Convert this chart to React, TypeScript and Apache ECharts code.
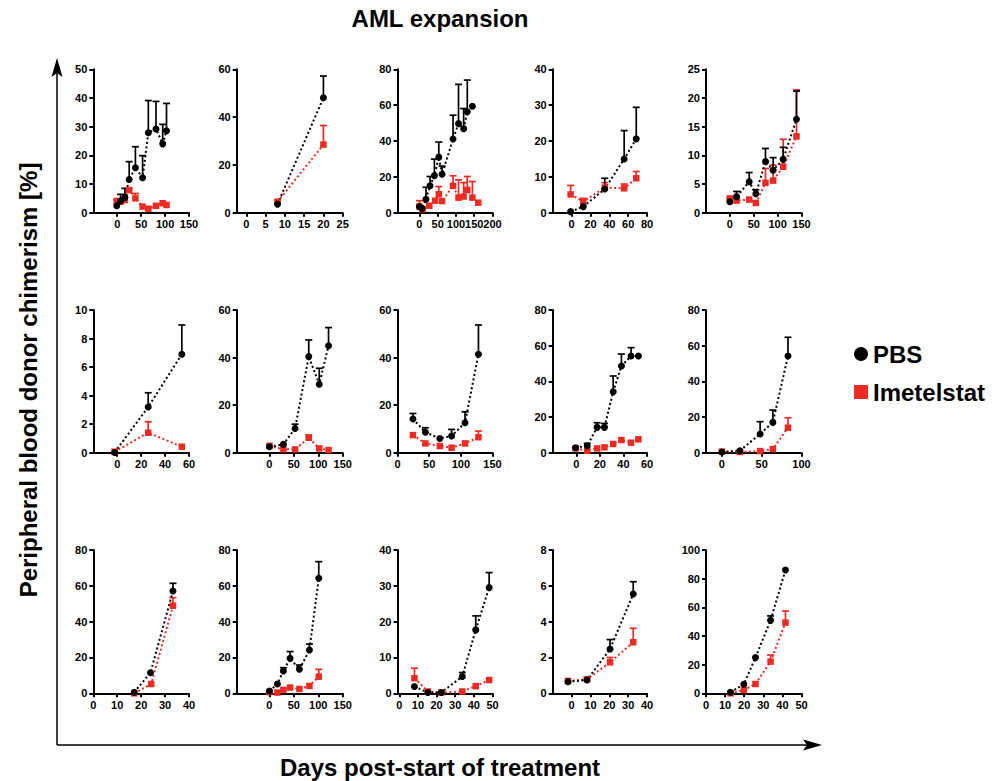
import React, { useEffect, useRef } from 'react';
import * as echarts from 'echarts';

const FONT = 'Liberation Sans, Arial, Helvetica, sans-serif';
const BLACK = '#000000';
const RED = '#ec2a24';

// ---------- Panel 1 (row 1, col 1)
const pbsDays1 = [-1, 7, 16, 25, 38, 53, 65, 81, 95, 103];
const pbs1 = [2.4, 4.1, 5.3, 11.6, 15.7, 12.2, 27.9, 29.2, 24, 28.6];
const pbsErr1 = [null, 6.4, 8.5, 17.8, 23, 19.9, 39.1, 38.8, 30.8, 38.1];
const imeDays1 = [-1, 7, 16, 25, 38, 53, 65, 81, 95, 103];
const ime1 = [4.1, 3.8, 4.4, 7.9, 5.0, 2.1, 1.4, 2.4, 3.3, 2.7];
const imeErr1 = [4.5, null, null, 8.5, 6.7, null, null, null, null, null];
const xTicks1 = [0, 50, 100, 150];
const yTicks1 = [0, 10, 20, 30, 40, 50];

// ---------- Panel 2 (row 1, col 2)
const pbsDays2 = [8.1, 20];
const pbs2 = [3.6, 48.1];
const pbsErr2 = [null, 57.2];
const imeDays2 = [8.1, 20];
const ime2 = [4.6, 28.5];
const imeErr2 = [5.3, 36.5];
const xTicks2 = [0, 5, 10, 15, 20, 25];
const yTicks2 = [0, 20, 40, 60];

// ---------- Panel 3 (row 1, col 3)
const pbsDays3 = [0, 7, 18, 29, 41, 53, 62, 92, 107, 121, 131, 145];
const pbs3 = [3.4, 2.4, 7.5, 15, 20.7, 31, 21.5, 41.1, 49.7, 46.9, 56.3, 59.4];
const pbsErr3 = [null, null, 14.2, 20.2, 29.9, 39.4, 26, 54.4, 71.6, 58.1, 74, null];
const imeDays3 = [0, 9, 27, 43, 53, 62, 92, 107, 121, 131, 145, 161];
const ime3 = [3.4, 1.9, 3.9, 6.7, 10.3, 6.5, 15, 8.4, 9, 12.7, 8.4, 5.6];
const imeErr3 = [6.7, null, null, null, 14.6, null, 20.6, 18.3, 16.8, 20.2, 17.4, null];
const xTicks3 = [0, 50, 100, 150, 200];
const yTicks3 = [0, 20, 40, 60, 80];

// ---------- Panel 4 (row 1, col 4)
const pbsDays4 = [-1, 12.4, 35.2, 55.8, 68.6];
const pbs4 = [0.3, 1.7, 6.6, 15, 20.6];
const pbsErr4 = [null, null, 9.6, 22.9, 29.4];
const imeDays4 = [-1, 12.4, 35.2, 55.8, 68.6];
const ime4 = [5.1, 3.1, 7, 6.8, 9.6];
const imeErr4 = [7.6, 4, 8.4, 8, 11.5];
const xTicks4 = [0, 20, 40, 60, 80];
const yTicks4 = [0, 10, 20, 30, 40];

// ---------- Panel 5 (row 1, col 5)
const pbsDays5 = [0, 14, 40.5, 54.4, 74.6, 90.6, 111.6, 139.5];
const pbs5 = [1.9, 2.8, 5.4, 3.3, 8.9, 7.4, 9.3, 16.3];
const pbsErr5 = [2.5, 3.7, 7, 4, 11.2, 9.6, 11.4, 21.2];
const imeDays5 = [0, 14, 40.5, 54.4, 74.6, 90.6, 111.6, 139.5];
const ime5 = [2.5, 2.1, 2.3, 1.7, 5.2, 5.6, 8, 13.3];
const imeErr5 = [null, null, null, null, 7.7, 8.3, 12.8, 21.4];
const xTicks5 = [0, 50, 100, 150];
const yTicks5 = [0, 5, 10, 15, 20, 25];

// ---------- Panel 6 (row 2, col 1)
const pbsDays6 = [-2.2, 25.9, 54];
const pbs6 = [0.02, 3.2, 6.9];
const pbsErr6 = [null, 4.2, 8.95];
const imeDays6 = [-2.2, 25.9, 54];
const ime6 = [0.07, 1.4, 0.42];
const imeErr6 = [null, 2.17, null];
const xTicks6 = [0, 20, 40, 60];
const yTicks6 = [0, 2, 4, 6, 8, 10];

// ---------- Panel 7 (row 2, col 2)
const pbsDays7 = [0, 28.6, 52.5, 80.5, 102, 121];
const pbs7 = [2.5, 3.5, 10.2, 40.4, 28.8, 45];
const pbsErr7 = [null, null, 12, 47.4, 35.5, 52.6];
const imeDays7 = [0, 28.6, 52.5, 80.5, 102, 121];
const ime7 = [2.9, 1.4, 1.4, 6.3, 1.8, 1.1];
const imeErr7 = [null, null, null, 7.4, null, null];
const xTicks7 = [0, 50, 100, 150];
const yTicks7 = [0, 20, 40, 60];

// ---------- Panel 8 (row 2, col 3)
const pbsDays8 = [24.4, 44, 66.8, 85.4, 106.6, 127.8];
const pbs8 = [14.2, 8.6, 6, 7, 12.6, 41.4];
const pbsErr8 = [16.5, 10.5, null, 9.8, 17.2, 53.7];
const imeDays8 = [24.4, 44, 66.8, 85.4, 106.6, 127.8];
const ime8 = [7.4, 3.9, 2.8, 2.1, 3.9, 6.5];
const imeErr8 = [null, null, null, null, null, 9.1];
const xTicks8 = [0, 50, 100, 150];
const yTicks8 = [0, 20, 40, 60];

// ---------- Panel 9 (row 2, col 4)
const pbsDays9 = [-0.6, 9.3, 17.7, 23.9, 31.3, 38.3, 46.5, 52.7];
const pbs9 = [2.8, 3.9, 14.2, 14.2, 34.2, 48.6, 54.2, 54.2];
const pbsErr9 = [null, 5.2, 16.8, 16.4, 43, 55.3, 58.9, null];
const imeDays9 = [-0.6, 9.3, 17.7, 23.9, 31.3, 38.3, 46.5, 52.7];
const ime9 = [2.4, 1.1, 2.4, 3, 4.9, 7.1, 5.6, 7.5];
const imeErr9 = [null, null, null, null, null, null, null, null];
const xTicks9 = [0, 20, 40, 60];
const yTicks9 = [0, 20, 40, 60, 80];

// ---------- Panel 10 (row 2, col 5)
const pbsDays10 = [0, 22.6, 48, 64, 83];
const pbs10 = [0.4, 1.1, 10.5, 17, 54.2];
const pbsErr10 = [null, null, 17.4, 23.9, 64.7];
const imeDays10 = [0, 22.6, 48, 64, 83];
const ime10 = [0.6, 0.4, 0.9, 2, 14];
const imeErr10 = [null, null, null, null, 19.6];
const xTicks10 = [0, 50, 100];
const yTicks10 = [0, 20, 40, 60, 80];

// ---------- Panel 11 (row 3, col 1)
const pbsDays11 = [17.1, 23.9, 33.3];
const pbs11 = [0.6, 11.5, 57.1];
const pbsErr11 = [null, null, 61.4];
const imeDays11 = [17.1, 24.2, 33.3];
const ime11 = [0, 5.2, 48.9];
const imeErr11 = [null, null, 53.4];
const xTicks11 = [0, 10, 20, 30, 40];
const yTicks11 = [0, 20, 40, 60, 80];

// ---------- Panel 12 (row 3, col 2)
const pbsDays12 = [0, 16.4, 28.6, 42.3, 61.4, 81.9, 101];
const pbs12 = [1.3, 5.2, 12.5, 19.5, 13.4, 24.2, 64.2];
const pbsErr12 = [null, null, 14.3, 23.3, 15.8, 27.5, 73.5];
const imeDays12 = [0, 16.4, 28.6, 42.3, 61.4, 81.9, 101];
const ime12 = [0.7, 0.4, 1.9, 3.2, 2.4, 4.1, 9.3];
const imeErr12 = [null, null, null, null, null, null, 13.4];
const xTicks12 = [0, 50, 100, 150];
const yTicks12 = [0, 20, 40, 60, 80];

// ---------- Panel 13 (row 3, col 3)
const pbsDays13 = [8.1, 15.3, 22.5, 33.8, 41, 48.2];
const pbs13 = [1.9, 0.2, 0.2, 4.7, 17.7, 29.5];
const pbsErr13 = [null, null, null, 5.8, 21.6, 33.7];
const imeDays13 = [8.1, 15.3, 22.5, 33.8, 41, 48.2];
const ime13 = [4.2, 0.5, 0.2, 0.5, 2, 3.7];
const imeErr13 = [7, null, null, null, null, null];
const xTicks13 = [0, 10, 20, 30, 40, 50];
const yTicks13 = [0, 10, 20, 30, 40];

// ---------- Panel 14 (row 3, col 4)
const pbsDays14 = [-1.9, 8.2, 20.4, 32.7];
const pbs14 = [0.65, 0.74, 2.47, 5.54];
const pbsErr14 = [null, null, 3.0, 6.23];
const imeDays14 = [-1.9, 8.2, 20.4, 32.7];
const ime14 = [0.69, 0.78, 1.73, 2.85];
const imeErr14 = [null, 0.9, 2.0, 3.63];
const xTicks14 = [0, 10, 20, 30, 40];
const yTicks14 = [0, 2, 4, 6, 8];

// ---------- Panel 15 (row 3, col 5)
const pbsDays15 = [12.8, 19.8, 25.9, 33.8, 41.6];
const pbs15 = [0.7, 6.3, 24.9, 50.9, 86];
const pbsErr15 = [null, null, null, 54, null];
const imeDays15 = [12.8, 19.8, 25.9, 33.8, 41.6];
const ime15 = [0, 2.3, 6.5, 22.1, 49.3];
const imeErr15 = [null, null, null, 26.7, 57.4];
const xTicks15 = [0, 10, 20, 30, 40, 50];
const yTicks15 = [0, 20, 40, 60, 80, 100];

// start value of each x axis (the axis begins left of 0 in most panels)
const xStarts = [-50, -2.5, -60, -20, -50, -20, -67, 0, -20, -20, 0, -67, -1, -10, 0];

const panels = [
  { pd: pbsDays1, p: pbs1, pe: pbsErr1, id: imeDays1, i: ime1, ie: imeErr1, xt: xTicks1, yt: yTicks1 },
  { pd: pbsDays2, p: pbs2, pe: pbsErr2, id: imeDays2, i: ime2, ie: imeErr2, xt: xTicks2, yt: yTicks2 },
  { pd: pbsDays3, p: pbs3, pe: pbsErr3, id: imeDays3, i: ime3, ie: imeErr3, xt: xTicks3, yt: yTicks3 },
  { pd: pbsDays4, p: pbs4, pe: pbsErr4, id: imeDays4, i: ime4, ie: imeErr4, xt: xTicks4, yt: yTicks4 },
  { pd: pbsDays5, p: pbs5, pe: pbsErr5, id: imeDays5, i: ime5, ie: imeErr5, xt: xTicks5, yt: yTicks5 },
  { pd: pbsDays6, p: pbs6, pe: pbsErr6, id: imeDays6, i: ime6, ie: imeErr6, xt: xTicks6, yt: yTicks6 },
  { pd: pbsDays7, p: pbs7, pe: pbsErr7, id: imeDays7, i: ime7, ie: imeErr7, xt: xTicks7, yt: yTicks7 },
  { pd: pbsDays8, p: pbs8, pe: pbsErr8, id: imeDays8, i: ime8, ie: imeErr8, xt: xTicks8, yt: yTicks8 },
  { pd: pbsDays9, p: pbs9, pe: pbsErr9, id: imeDays9, i: ime9, ie: imeErr9, xt: xTicks9, yt: yTicks9 },
  { pd: pbsDays10, p: pbs10, pe: pbsErr10, id: imeDays10, i: ime10, ie: imeErr10, xt: xTicks10, yt: yTicks10 },
  { pd: pbsDays11, p: pbs11, pe: pbsErr11, id: imeDays11, i: ime11, ie: imeErr11, xt: xTicks11, yt: yTicks11 },
  { pd: pbsDays12, p: pbs12, pe: pbsErr12, id: imeDays12, i: ime12, ie: imeErr12, xt: xTicks12, yt: yTicks12 },
  { pd: pbsDays13, p: pbs13, pe: pbsErr13, id: imeDays13, i: ime13, ie: imeErr13, xt: xTicks13, yt: yTicks13 },
  { pd: pbsDays14, p: pbs14, pe: pbsErr14, id: imeDays14, i: ime14, ie: imeErr14, xt: xTicks14, yt: yTicks14 },
  { pd: pbsDays15, p: pbs15, pe: pbsErr15, id: imeDays15, i: ime15, ie: imeErr15, xt: xTicks15, yt: yTicks15 },
];

// layout
const colLeft = [93.3, 236.7, 397.5, 552.7, 706];
const colRight = [189, 342.7, 492.5, 647, 801.5];
const rowTop = [69.3, 310, 550];
const rowBottom = [212.7, 452.7, 693.3];

const labelStyle = { fontSize: 11, fontWeight: 'bold' as const, fontFamily: FONT, color: '#000' };

function errSeries(days: number[], vals: number[], errs: (number | null)[], color: string, idx: number) {
  const data: number[][] = [];
  days.forEach((d, k) => {
    const e = errs[k];
    if (e !== null && e !== undefined) data.push([d, vals[k], e]);
  });
  return {
    type: 'custom',
    xAxisIndex: idx,
    yAxisIndex: idx,
    silent: true,
    z: 2,
    data,
    renderItem: (params: any, api: any) => {
      const p = api.coord([api.value(0), api.value(1)]);
      const t = api.coord([api.value(0), api.value(2)]);
      const st = { stroke: color, lineWidth: 1.7 };
      return {
        type: 'group',
        children: [
          { type: 'line', shape: { x1: p[0], y1: p[1], x2: p[0], y2: t[1] }, style: st },
          { type: 'line', shape: { x1: p[0] - 3.5, y1: t[1], x2: p[0] + 3.5, y2: t[1] }, style: st },
        ],
      };
    },
  };
}

function lineSeries(name: string, days: number[], vals: number[], color: string, symbol: string, idx: number) {
  return {
    type: 'line',
    name,
    xAxisIndex: idx,
    yAxisIndex: idx,
    silent: true,
    z: 3,
    data: days.map((d, k) => [d, vals[k]]),
    symbol,
    symbolSize: symbol === 'rect' ? 6.5 : 7,
    showSymbol: true,
    itemStyle: { color },
    lineStyle: { color, width: 2, type: [2, 2.5] },
    emphasis: { disabled: true },
  };
}

function buildOption() {
  const grid: any[] = [];
  const xAxis: any[] = [];
  const yAxis: any[] = [];
  const series: any[] = [];
  panels.forEach((pn, idx) => {
    const r = Math.floor(idx / 5);
    const c = idx % 5;
    grid.push({
      left: colLeft[c],
      top: rowTop[r],
      width: colRight[c] - colLeft[c],
      height: rowBottom[r] - rowTop[r],
      outerBoundsMode: 'none',
      containLabel: false,
    });
    const axisLine = { show: true, onZero: false, lineStyle: { color: '#000', width: 2 } };
    const axisTick = { show: true, length: 4, lineStyle: { color: '#000', width: 2 } };
    xAxis.push({
      type: 'value',
      gridIndex: idx,
      min: xStarts[idx],
      max: pn.xt[pn.xt.length - 1],
      axisLine,
      axisTick: { ...axisTick, customValues: pn.xt },
      axisLabel: { ...labelStyle, customValues: pn.xt, margin: 6 },
      splitLine: { show: false },
    });
    yAxis.push({
      type: 'value',
      gridIndex: idx,
      min: pn.yt[0],
      max: pn.yt[pn.yt.length - 1],
      interval: pn.yt[1] - pn.yt[0],
      axisLine,
      axisTick,
      axisLabel: { ...labelStyle, margin: 6 },
      splitLine: { show: false },
    });
    series.push(errSeries(pn.id, pn.i, pn.ie, RED, idx));
    series.push(lineSeries('Imetelstat', pn.id, pn.i, RED, 'rect', idx));
    series.push(errSeries(pn.pd, pn.p, pn.pe, BLACK, idx));
    series.push(lineSeries('PBS', pn.pd, pn.p, BLACK, 'circle', idx));
  });

  const textBase = { fontFamily: FONT, fontWeight: 'bold', fill: '#000', align: 'center', verticalAlign: 'middle' };

  return {
    animation: false,
    backgroundColor: '#ffffff',
    grid,
    xAxis,
    yAxis,
    series,
    legend: {
      data: [
        { name: 'PBS', icon: 'circle' },
        { name: 'Imetelstat', icon: 'rect' },
      ],
      orient: 'vertical',
      left: 849,
      top: 337,
      itemWidth: 14,
      itemHeight: 14,
      itemGap: 14,
      selectedMode: false,
      textStyle: { fontSize: 24, fontWeight: 'bold', fontFamily: FONT, color: '#000' },
    },
    graphic: [
      { type: 'line', shape: { x1: 57, y1: 745, x2: 57, y2: 72 }, style: { stroke: '#000', lineWidth: 1.5 } },
      { type: 'polygon', shape: { points: [[57, 58], [51.5, 77], [57, 73], [62.5, 77]] }, style: { fill: '#000' } },
      { type: 'line', shape: { x1: 57, y1: 745, x2: 808, y2: 745 }, style: { stroke: '#000', lineWidth: 1.5 } },
      { type: 'polygon', shape: { points: [[822, 745], [803, 739.5], [807, 745], [803, 750.5]] }, style: { fill: '#000' } },
      { type: 'text', x: 440, y: 18, style: { ...textBase, text: 'AML expansion', fontSize: 24 } },
      { type: 'text', x: 440, y: 767, style: { ...textBase, text: 'Days post-start of treatment', fontSize: 24 } },
      {
        type: 'text',
        x: 28,
        y: 380,
        rotation: Math.PI / 2,
        style: { ...textBase, text: 'Peripheral blood donor chimerism [%]', fontSize: 24 },
      },
    ],
  };
}

export default function App() {
  const ref = useRef<HTMLDivElement>(null);
  useEffect(() => {
    if (!ref.current) return;
    const chart = echarts.init(ref.current, null, { renderer: 'svg' });
    chart.setOption(buildOption() as any);
    return () => chart.dispose();
  }, []);
  return (
    <div
      ref={ref}
      style={{ position: 'absolute', left: 0, top: 0, width: 1006, height: 781, background: '#fff' }}
    />
  );
}
